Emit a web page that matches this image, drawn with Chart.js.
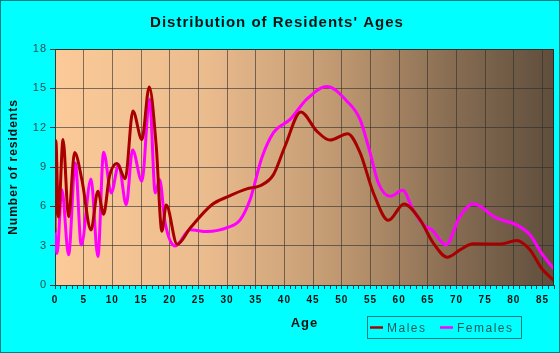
<!DOCTYPE html>
<html>
<head>
<meta charset="utf-8">
<script src="https://cdn.jsdelivr.net/npm/chart.js@4/dist/chart.umd.min.js"></script>
<style>
  html, body { margin: 0; padding: 0; background: #00ffff; }
  #wrap { width: 560px; height: 353px; position: relative; }
</style>
</head>
<body>
<div id="wrap"><canvas id="ageChart"></canvas></div>
<script>
// ages (x) and number of residents (y)
const maleAges = [0, 0.15, 0.6, 1.4, 2.37, 3.42, 4.7, 6.27, 7.48, 8.47, 9.5, 10.8, 12.25, 13.58, 15.15, 16.43, 17.65, 18.64, 19.39, 21.3, 23.57, 27.35, 30.25, 33.43, 35.77, 38.09, 40.12, 42.85, 45.64, 47.96, 51.04, 53.2, 55.51, 58.13, 60.85, 63.64, 65.96, 68.4, 70.6, 72.93, 77.57, 80.47, 82.8, 84.83, 86.87];
const maleCounts = [4.1, 11.0, 5.2, 11.1, 5.2, 10.1, 8.0, 4.2, 7.15, 5.4, 8.3, 9.27, 8.1, 13.27, 11.1, 15.1, 10.6, 4.1, 6.1, 3.1, 4.34, 6.12, 6.76, 7.33, 7.57, 8.42, 10.6, 13.2, 11.74, 11.05, 11.54, 10.08, 7.02, 4.93, 6.18, 4.98, 3.19, 2.12, 2.68, 3.14, 3.12, 3.39, 2.68, 1.28, 0.38];

const femaleAges = [0, 0.35, 1.2, 2.37, 3.54, 4.58, 6.27, 7.48, 8.47, 9.81, 11.1, 12.42, 13.52, 15.15, 16.49, 17.48, 18.23, 19.21, 20.96, 23.57, 26.47, 30.25, 32.28, 34.0, 36.06, 38.09, 40.99, 43.9, 47.4, 50.86, 53.18, 54.8, 56.38, 58.42, 60.62, 62.47, 64.2, 65.7, 68.17, 70.6, 72.93, 76.99, 80.47, 82.8, 84.83, 86.87];
const femaleCounts = [4.3, 2.4, 7.27, 2.3, 9.3, 3.06, 8.09, 2.17, 10.13, 7.02, 9.19, 6.12, 10.29, 7.91, 14.17, 7.02, 8.04, 4.72, 2.98, 4.21, 4.08, 4.41, 4.97, 6.5, 9.7, 11.62, 12.63, 14.17, 15.14, 14.04, 12.63, 10.3, 7.78, 6.76, 7.22, 5.7, 4.6, 4.2, 3.06, 5.23, 6.2, 5.1, 4.59, 3.83, 2.43, 1.28];

const seriesNames = ['Males', 'Females'];
const ageMax = 87;
const countMax = 18;
const countStep = 3;

const maleColor = '#a80000';
const femaleColor = '#ff00ff';
const gridColor = 'rgba(45,45,45,0.6)';
const fontFamily = '"Liberation Sans", Arial, sans-serif';

const toPoints = (xs, ys) => xs.map((x, i) => ({ x, y: ys[i] }));

// cyan backdrop, frame and the brown gradient behind the plot
const backdrop = {
  id: 'backdrop',
  beforeDraw(chart) {
    const { ctx, width, height, chartArea: a } = chart;
    ctx.save();
    ctx.fillStyle = '#00ffff';
    ctx.fillRect(0, 0, width, height);
    ctx.strokeStyle = '#008080';
    ctx.lineWidth = 1;
    ctx.strokeRect(0.5, 0.5, width - 1, height - 1);
    const g = ctx.createLinearGradient(a.left, 0, a.right, 0);
    g.addColorStop(0, '#fcca98');
    g.addColorStop(0.3, '#ebbc8e');
    g.addColorStop(0.55, '#c39b73');
    g.addColorStop(0.8, '#876c52');
    g.addColorStop(1, '#5f4e3c');
    ctx.fillStyle = g;
    ctx.fillRect(a.left, a.top, a.right - a.left, a.bottom - a.top);
    ctx.restore();
    ctx.letterSpacing = '1px';
  },
  afterDraw(chart) {
    const { ctx, chartArea: a } = chart;
    ctx.save();
    // top and right edges of the plot
    ctx.strokeStyle = '#2b2b2b';
    ctx.lineWidth = 1;
    ctx.beginPath();
    ctx.moveTo(a.left, a.top + 0.5);
    ctx.lineTo(a.right - 0.5, a.top + 0.5);
    ctx.lineTo(a.right - 0.5, a.bottom);
    ctx.stroke();

    // boxed legend, bottom right
    const bx = 367.5, by = 316.5, bw = 154, bh = 22;
    ctx.strokeStyle = '#1a7a7a';
    ctx.strokeRect(bx, by, bw, bh);
    const items = [{ x: 370, tx: 387 }, { x: 440, tx: 457 }];
    ctx.font = '12px ' + fontFamily;
    ctx.letterSpacing = '1.5px';
    ctx.textBaseline = 'middle';
    chart.data.datasets.forEach((ds, i) => {
      const it = items[i];
      ctx.strokeStyle = ds.borderColor;
      ctx.lineWidth = 2.5;
      ctx.beginPath();
      ctx.moveTo(it.x, by + bh / 2);
      ctx.lineTo(it.x + 13, by + bh / 2);
      ctx.stroke();
      ctx.fillStyle = '#1c5a5a';
      ctx.fillText(ds.label, it.tx, by + bh / 2 + 1);
    });
    ctx.restore();
  }
};

new Chart(document.getElementById('ageChart'), {
  type: 'line',
  data: {
    datasets: [{
      label: seriesNames[0],
      data: toPoints(maleAges, maleCounts),
      borderColor: maleColor,
      borderWidth: 3
    }, {
      label: seriesNames[1],
      data: toPoints(femaleAges, femaleCounts),
      borderColor: femaleColor,
      borderWidth: 3
    }]
  },
  options: {
    responsive: true,
    maintainAspectRatio: false,
    animation: false,
    events: [],
    layout: { padding: { left: 0, right: 6, top: 0, bottom: 20 } },
    elements: {
      point: { radius: 0 },
      line: { cubicInterpolationMode: 'monotone', fill: false, borderCapStyle: 'round', borderJoinStyle: 'round' }
    },
    scales: {
      x: {
        type: 'linear',
        min: 0,
        max: ageMax,
        afterFit: s => { s.height = 48; },
        ticks: {
          stepSize: 1,
          autoSkip: false,
          maxRotation: 0,
          padding: 5,
          color: '#111',
          font: { family: fontFamily, size: 10, weight: 'bold' },
          callback: v => v % 5 === 0 ? v : ''
        },
        grid: {
          color: c => (c.tick && c.tick.value % 5 === 0 && c.tick.value > 0) ? gridColor : 'rgba(0,0,0,0)',
          tickColor: '#2b3b3b',
          tickLength: 4
        },
        border: { color: '#2b3b3b' },
        title: {
          display: true,
          text: 'Age',
          color: '#111',
          padding: { top: 0, bottom: 2 },
          font: { family: fontFamily, size: 13, weight: 'bold' }
        }
      },
      y: {
        min: 0,
        max: countMax,
        afterFit: s => { s.width = 55; },
        ticks: {
          stepSize: countStep,
          padding: 3,
          color: '#2a4f4f',
          font: { family: fontFamily, size: 11 }
        },
        grid: { color: gridColor, tickColor: '#2b3b3b', tickLength: 5 },
        border: { color: '#2b3b3b' },
        title: {
          display: true,
          text: 'Number of residents',
          color: '#111',
          padding: { top: 6, bottom: 0 },
          font: { family: fontFamily, size: 12, weight: 'bold' }
        }
      }
    },
    plugins: {
      legend: { display: false },
      tooltip: { enabled: false },
      title: {
        display: true,
        text: "Distribution of Residents' Ages",
        color: '#111',
        padding: { top: 14, bottom: 17 },
        font: { family: fontFamily, size: 15, weight: 'bold' }
      }
    }
  },
  plugins: [backdrop]
});
</script>
</body>
</html>
